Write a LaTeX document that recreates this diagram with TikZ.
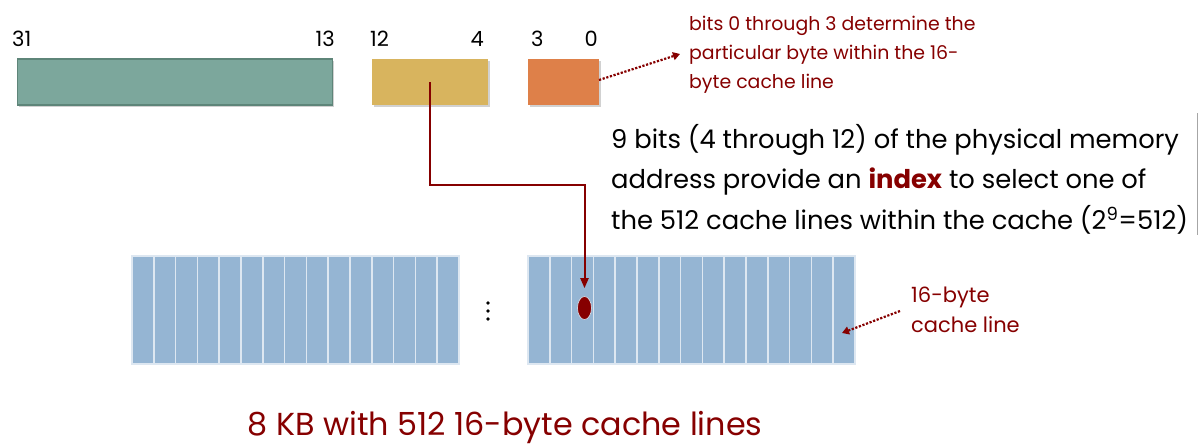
\documentclass[tikz,border=0pt]{standalone}
\usepackage{fontspec}
\setmainfont{Poppins}
\usetikzlibrary{arrows.meta,shapes.geometric,calc}
\definecolor{dred}{HTML}{860000}
\definecolor{tagc}{HTML}{7CA79C}
\definecolor{tagb}{HTML}{5E8579}
\definecolor{idxc}{HTML}{D8B45E}
\definecolor{offc}{HTML}{DE8049}
\definecolor{cellc}{HTML}{95B5D3}
\definecolor{celll}{HTML}{DDE7F1}
\tikzset{
  field/.style={rectangle,inner sep=0pt,minimum height=46pt},
  shadowed/.style={preaction={fill=black,opacity=0.18,transform canvas={xshift=1.5pt,yshift=-2pt}}},
  bitlbl/.style={inner sep=0pt,font=\fontsize{21}{24}\selectfont},
  cellbox/.style={rectangle,draw=celll,fill=cellc,line width=1.6pt,inner sep=0pt,minimum width=21.8pt,minimum height=108pt},
  note/.style={inner sep=0pt,align=left,text=dred},
  dotarrow/.style={dred,line width=2.2pt,dash pattern=on 2.2pt off 1.6pt,-{Triangle[width=8pt,length=7pt]}},
  solidarrow/.style={dred,line width=2pt,-{Triangle[width=8pt,length=10pt]}},
  ellipsisdot/.style={circle,fill=black,inner sep=0pt,minimum size=3.6pt},
}
\begin{document}
\begin{tikzpicture}[x=1pt,y=-1pt]
\useasboundingbox (0,0) rectangle (1199,444);
% address fields
\node[field,shadowed,fill=tagc,draw=tagb,line width=1.2pt,minimum width=315pt] (tag) at (175,82) {};
\node[field,shadowed,fill=idxc,minimum width=116pt] (idx) at (430,82) {};
\node[field,shadowed,fill=offc,minimum width=71pt] (off) at (563.5,82) {};
% bit labels
\node[bitlbl,anchor=base west] (b31) at (12,47) {31};
\node[bitlbl,anchor=base east] (b13) at (335,47) {13};
\node[bitlbl,anchor=base west] (b12) at (370,47) {12};
\node[bitlbl,anchor=base east] (b4) at (484,47) {4};
\node[bitlbl,anchor=base west] (b3) at (531,47) {3};
\node[bitlbl,anchor=base east] (b0) at (598,47) {0};
% cache lines
\foreach \i in {0,...,14} {
  \node[cellbox] (L\i) at ({132+10.9+21.8*\i},310) {};
  \node[cellbox] (R\i) at ({528+10.9+21.8*\i},310) {};
}
% vertical ellipsis
\node[ellipsisdot] (vd1) at (488,303) {};
\node[ellipsisdot] (vd2) at (488,311) {};
\node[ellipsisdot] (vd3) at (488,319) {};
% selected line marker
\node[ellipse,fill=dred,draw=celll,line width=0.6pt,minimum width=14pt,minimum height=23pt,inner sep=0pt] (sel) at (584.5,308) {};
% notes
\node[note,anchor=north west,font=\fontsize{18.9}{29}\selectfont] (n1) at (689,16)
  {bits 0 through 3 determine the\\particular byte within the 16-\\byte cache line};
\node[inner sep=0pt,anchor=north west,align=left,font=\fontsize{25.8}{40.5}\selectfont] (n2) at (611,124)
  {9 bits (4 through 12) of the physical memory\\address provide an \textbf{\textcolor{dred}{index}} to select one of\\the 512 cache lines within the cache (2\textsuperscript{9}=512)};
\node[note,anchor=north west,font=\fontsize{21}{30}\selectfont] (n3) at (911,287)
  {16-byte\\cache line};
\node[inner sep=0pt,text=dred,anchor=base,font=\fontsize{31.8}{36}\selectfont] (cap) at (505,435)
  {8 KB with 512 16-byte cache lines};
% right border line
\coordinate (edgeA) at (1197,113);
\coordinate (edgeB) at (1197,235);
\draw[gray!70,line width=0.8pt] (edgeA) -- (edgeB);
% connectors
\coordinate (bend) at (429,185);
\draw[solidarrow,shorten >=8pt] (idx.center) -- (idx.center |- bend) -| (sel.north);
\coordinate (offpt) at (599,80);
\coordinate (n1tip) at (680,54);
\draw[dotarrow] (offpt) -- (n1tip);
\coordinate (n3start) at (900,311);
\coordinate (celltip) at (842,333);
\draw[dotarrow] (n3start) -- (celltip);
\end{tikzpicture}
\end{document}
